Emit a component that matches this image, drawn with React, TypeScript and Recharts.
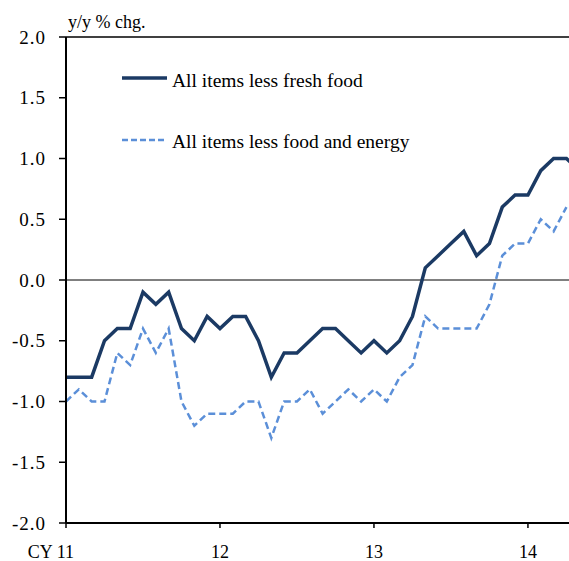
import React from 'react';
import { LineChart, Line, XAxis, YAxis, ReferenceLine } from 'recharts';

const monthIndex = [0,1,2,3,4,5,6,7,8,9,10,11,12,13,14,15,16,17,18,19,20,21,22,23,24,25,26,27,28,29,30,31,32,33,34,35,36,37,38,39,40];
const lessFreshFood = [-0.8,-0.8,-0.8,-0.5,-0.4,-0.4,-0.1,-0.2,-0.1,-0.4,-0.5,-0.3,-0.4,-0.3,-0.3,-0.5,-0.8,-0.6,-0.6,-0.5,-0.4,-0.4,-0.5,-0.6,-0.5,-0.6,-0.5,-0.3,0.1,0.2,0.3,0.4,0.2,0.3,0.6,0.7,0.7,0.9,1.0,1.0,0.9];
const lessFoodEnergy = [-1.0,-0.9,-1.0,-1.0,-0.6,-0.7,-0.4,-0.6,-0.4,-1.0,-1.2,-1.1,-1.1,-1.1,-1.0,-1.0,-1.3,-1.0,-1.0,-0.9,-1.1,-1.0,-0.9,-1.0,-0.9,-1.0,-0.8,-0.7,-0.3,-0.4,-0.4,-0.4,-0.4,-0.2,0.2,0.3,0.3,0.5,0.4,0.6,null];
const xTickValues = [0, 12, 24, 36];
const xTickLabels = ['CY 11', '12', '13', '14'];
const yTickValues = [-2, -1.5, -1, -0.5, 0, 0.5, 1, 1.5, 2];
const seriesNames = ['All items less fresh food', 'All items less food and energy'];
const unitLabel = 'y/y % chg.';

const data = monthIndex.map((m, k) => ({ m, a: lessFreshFood[k], b: lessFoodEnergy[k] }));

const FONT = "'Liberation Serif', 'Times New Roman', Times, serif";
const FS = 18;
const DARK = '#1B3A64';
const LIGHT = '#5B8FD8';
const txtStyle = { fontFamily: FONT, fontSize: FS };

const XTick = (props: any) => {
  const { x, y, payload } = props;
  const idx = xTickValues.indexOf(payload.value);
  const label = idx >= 0 ? xTickLabels[idx] : '';
  const first = idx === 0;
  return (
    <text x={first ? x + 8 : x} y={y + 28} textAnchor={first ? 'end' : 'middle'} style={txtStyle} fill="#000">
      {label}
    </text>
  );
};

const YTick = (props: any) => {
  const { x, y, payload } = props;
  return (
    <text x={x} y={y} dy="0.35em" textAnchor="end" style={{ fontFamily: FONT, fontSize: 19, letterSpacing: 1 }} fill="#000">
      {Number(payload.value).toFixed(1)}
    </text>
  );
};

export default function App() {
  return (
    <div style={{ position: 'fixed', left: 0, top: 0, width: 569, height: 561, overflow: 'hidden', fontFamily: FONT, background: '#fff' }}>
      <LineChart width={569} height={561} data={data} margin={{ top: 37, right: 0, bottom: 8, left: 0 }}>
        <XAxis
          dataKey="m"
          type="number"
          domain={[0, 39.2]}
          allowDataOverflow
          ticks={xTickValues}
          interval={0}
          tick={<XTick />}
          tickSize={5}
          height={30}
          axisLine={{ stroke: '#000', strokeWidth: 2 }}
          tickLine={{ stroke: '#000', strokeWidth: 1.5 }}
        />
        <YAxis
          type="number"
          domain={[-2, 2]}
          ticks={yTickValues}
          interval={0}
          width={66}
          tickSize={7}
          tickMargin={13}
          tick={<YTick />}
          axisLine={{ stroke: '#000', strokeWidth: 2 }}
          tickLine={{ stroke: '#000', strokeWidth: 1.5 }}
        />
        <ReferenceLine y={2} stroke="#000" strokeWidth={1.5} />
        <ReferenceLine y={0} stroke="#000" strokeWidth={1} />
        <Line dataKey="a" stroke={DARK} strokeWidth={3.5} dot={false} isAnimationActive={false} />
        <Line dataKey="b" stroke={LIGHT} strokeWidth={2.5} strokeDasharray="7 4" dot={false} isAnimationActive={false} />
      </LineChart>
      <svg width={569} height={170} style={{ position: 'absolute', left: 0, top: 0, pointerEvents: 'none' }}>
        <text x={68} y={28} style={{ fontFamily: FONT, fontSize: 18 }} fill="#000">{unitLabel}</text>
        <line x1={122} x2={167} y1={78} y2={78} stroke={DARK} strokeWidth={3.5} />
        <text x={172} y={86.5} style={{ fontFamily: FONT, fontSize: 19.5 }} fill="#000">{seriesNames[0]}</text>
        <line x1={122} x2={167} y1={140} y2={140} stroke={LIGHT} strokeWidth={2.5} strokeDasharray="6 3" />
        <text x={172} y={148} style={{ fontFamily: FONT, fontSize: 19.5 }} fill="#000">{seriesNames[1]}</text>
      </svg>
    </div>
  );
}
